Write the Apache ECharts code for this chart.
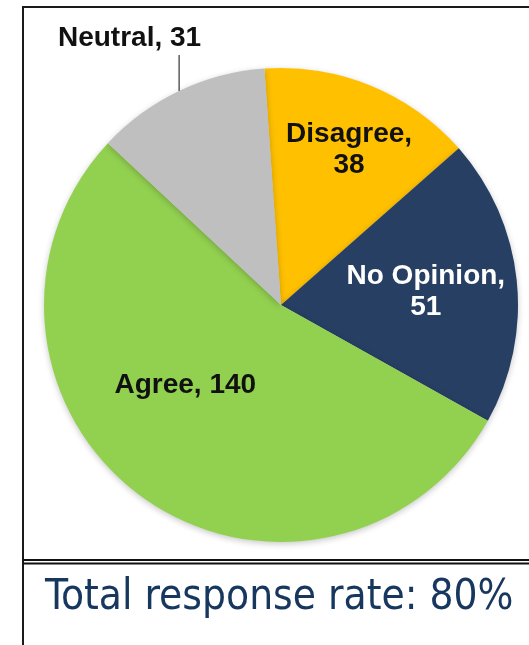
<!DOCTYPE html>
<html>
<head>
<meta charset="utf-8">
<script src="https://cdn.jsdelivr.net/npm/echarts@6/dist/echarts.min.js"></script>
<style>
html,body{margin:0;padding:0;background:#fff;}
#chart{width:529px;height:645px;}
</style>
</head>
<body>
<div id="chart"></div>
<script>
// ---- data ----
const categories = ['Disagree', 'No Opinion', 'Agree', 'Neutral'];
const values = [38, 51, 140, 31];
const sliceColors = ['#FFC000', '#263F63', '#92D050', '#BFBFBF'];
const footerText = 'Total response rate: 80%';

// ---- label styling ----
const labelFormats = ['{b},\n{c}', '{b},\n{c}', '{b}, {c}', '{b}, {c}'];
const labelColors = ['#111111', '#FFFFFF', '#111111', '#111111'];
const insideShift = [[22, -43], [24, 0], [-24, -18], [0, 0]];

const chart = echarts.init(document.getElementById('chart'), null, {renderer: 'canvas'});

const data = categories.map((name, i) => ({
  name: name,
  value: values[i],
  itemStyle: {color: sliceColors[i]},
  label: {
    position: name === 'Neutral' ? 'outside' : 'inside',
    formatter: labelFormats[i],
    color: labelColors[i]
  },
  labelLine: {show: name === 'Neutral', length: 36, length2: 0,
    lineStyle: {color: '#333', width: 1.2}}
}));

chart.setOption({
  animation: false,
  backgroundColor: '#ffffff',
  series: [{
    type: 'pie',
    center: [281, 305],
    radius: 237,
    startAngle: 94,
    clockwise: true,
    avoidLabelOverlap: false,
    silent: true,
    itemStyle: {
      borderWidth: 0,
      shadowBlur: 6,
      shadowColor: 'rgba(0,0,0,0.22)',
      shadowOffsetY: 2
    },
    label: {
      fontFamily: '"Liberation Sans", Arial, sans-serif',
      fontWeight: 'bold',
      fontSize: 28,
      lineHeight: 31,
      align: 'center'
    },
    labelLayout: function (p) {
      const i = p.dataIndex;
      if (categories[i] === 'Neutral' && p.labelLinePoints) {
        const pt = p.labelLinePoints[0];
        return {
          x: pt[0] + 22,
          y: pt[1] - 53,
          align: 'right',
          verticalAlign: 'middle',
          labelLinePoints: [[pt[0], pt[1]], [pt[0], pt[1] - 36], [pt[0], pt[1] - 36]]
        };
      }
      return {dx: insideShift[i][0], dy: insideShift[i][1]};
    },
    data: data
  }],
  graphic: [
    {type: 'line', shape: {x1: 23, y1: 7, x2: 529, y2: 7}, style: {stroke: '#1a1a1a', lineWidth: 2}},
    {type: 'line', shape: {x1: 23, y1: 6, x2: 23, y2: 645}, style: {stroke: '#1a1a1a', lineWidth: 2}},
    {type: 'line', shape: {x1: 23, y1: 560, x2: 529, y2: 560}, style: {stroke: '#111', lineWidth: 2}},
    {type: 'line', shape: {x1: 23, y1: 563.5, x2: 529, y2: 563.5}, style: {stroke: '#111', lineWidth: 2}},
    {type: 'text', x: 45, y: 598,
      style: {text: footerText, fill: '#17375E',
        font: '42px "DejaVu Sans Condensed", "DejaVu Sans", sans-serif',
        textAlign: 'left', textVerticalAlign: 'middle'}}
  ]
});
</script>
</body>
</html>
